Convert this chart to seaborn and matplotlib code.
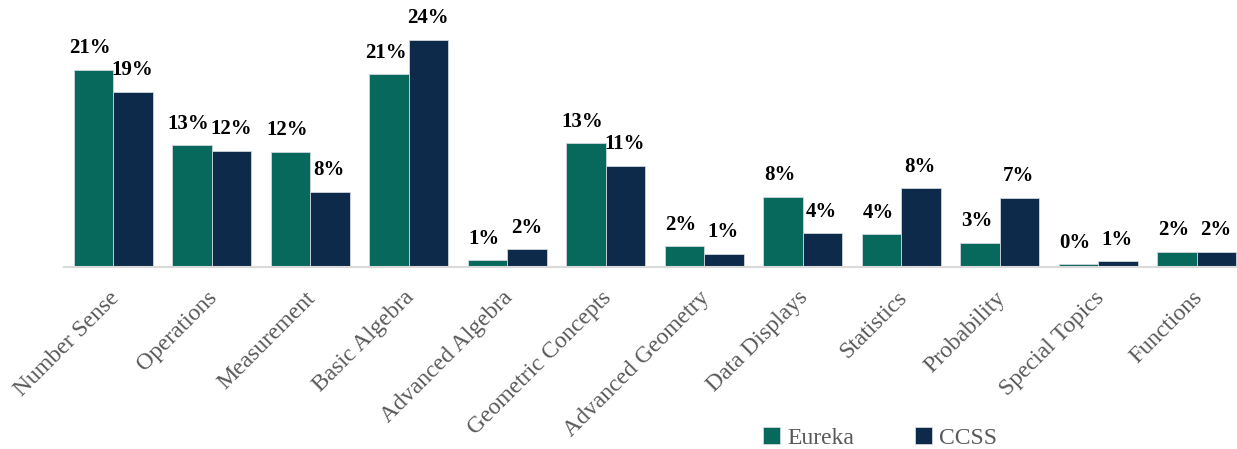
import matplotlib
matplotlib.use("Agg")
import matplotlib.pyplot as plt
import matplotlib.transforms as mtransforms
import seaborn as sns
import pandas as pd

# Share of content by topic strand
categories = ["Number Sense", "Operations", "Measurement", "Basic Algebra",
              "Advanced Algebra", "Geometric Concepts", "Advanced Geometry",
              "Data Displays", "Statistics", "Probability", "Special Topics",
              "Functions"]
eureka = [21.1, 13.0, 12.3, 20.6, 0.7, 13.2, 2.2, 7.5, 3.5, 2.6, 0.3, 1.6]
ccss = [18.7, 12.4, 8.0, 24.3, 1.9, 10.8, 1.4, 3.6, 8.4, 7.4, 0.6, 1.6]
series = ["Eureka", "CCSS"]
colors = ["#07695B", "#0E2A4A"]

df = pd.DataFrame({
    "Topic": categories * 2,
    "Share": eureka + ccss,
    "Source": [series[0]] * len(categories) + [series[1]] * len(categories),
})

sns.set_style("white")
plt.rcParams["font.family"] = ["Liberation Serif", "DejaVu Serif"]

W, H = 1237, 449
fig = plt.figure(figsize=(W / 100, H / 100), dpi=100)
ax = fig.add_axes([64 / W, (H - 267) / H, 1182 / W, 262 / H])

sns.barplot(data=df, x="Topic", y="Share", hue="Source", order=categories,
            hue_order=series, palette=colors, width=0.8, saturation=1,
            edgecolor="#d0d6dc", linewidth=0.6, ax=ax)

ax.set_xlim(-0.5, len(categories) - 0.5)
ax.set_ylim(0, 28)
ax.set_xlabel("")
ax.set_ylabel("")
ax.set_yticks([])
for side in ["left", "right", "top"]:
    ax.spines[side].set_visible(False)
ax.spines["bottom"].set_color("#d9d9d9")
ax.spines["bottom"].set_linewidth(1.5)

ax.tick_params(axis="x", length=0, pad=6)
ax.set_xticks(range(len(categories)))
ax.set_xticklabels(categories, rotation=45, ha="right", va="top",
                   rotation_mode="anchor", fontsize=17, color="#595959")
shift = mtransforms.ScaledTranslation(-0.05, -0.12, fig.dpi_scale_trans)
for lbl in ax.get_xticklabels():
    lbl.set_transform(lbl.get_transform() + shift)

# value labels above each bar (Eureka nudged left so paired labels stay apart)
nudges = [-2.5, -0.5]
for container, dx in zip(ax.containers, nudges):
    for patch in container:
        v = patch.get_height()
        ax.annotate(f"{round(v)}%",
                    xy=(patch.get_x() + patch.get_width() / 2, v),
                    xytext=(dx, 12), textcoords="offset points",
                    ha="center", va="baseline", fontsize=15,
                    fontweight="bold", color="black")

handles, labels = ax.get_legend_handles_labels()
if ax.get_legend() is not None:
    ax.get_legend().remove()
fig.legend(handles, labels, loc="center", bbox_to_anchor=(880 / W, (H - 438) / H),
           ncol=2, frameon=False, fontsize=17, handlelength=0.7,
           handleheight=0.7, handletextpad=0.3, columnspacing=2.6,
           labelcolor="#595959")

fig.savefig("out.png", dpi=100)
